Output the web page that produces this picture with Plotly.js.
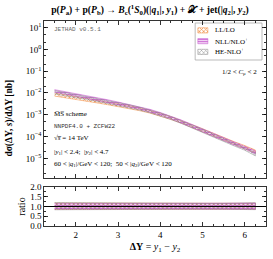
<!DOCTYPE html>
<html><head><meta charset="utf-8">
<script src="https://cdn.plot.ly/plotly-3.0.1.min.js"></script>
<style>html,body{margin:0;padding:0;background:#fff}#chart{width:273px;height:259px}</style>
</head><body><div id="chart"></div>
<script>
const dY = [1.5,1.75,2.0,2.25,2.5,2.75,3.0,3.25,3.5,3.75,4.0,4.25,4.5,4.75,5.0,5.25,5.5,5.75,6.0,6.25];

const llLow  = [7.2e-3,6.0e-3,5.0e-3,4.2e-3,3.5e-3,2.9e-3,2.4e-3,1.95e-3,1.55e-3,1.2e-3,8.8e-4,6.1e-4,4.1e-4,2.65e-4,1.7e-4,1.07e-4,6.7e-5,4.3e-5,2.85e-5,1.75e-5];
const llHigh = [1.0e-2,8.3e-3,6.9e-3,5.8e-3,4.8e-3,3.95e-3,3.25e-3,2.65e-3,2.1e-3,1.62e-3,1.18e-3,8.2e-4,5.5e-4,3.55e-4,2.28e-4,1.44e-4,9.0e-5,5.8e-5,3.85e-5,2.4e-5];

const nllLow  = [1.08e-2,8.8e-3,7.1e-3,5.8e-3,4.6e-3,3.7e-3,2.9e-3,2.3e-3,1.8e-3,1.36e-3,9.6e-4,6.5e-4,4.3e-4,2.7e-4,1.7e-4,1.05e-4,6.5e-5,4.1e-5,2.7e-5,1.6e-5];
const nllHigh = [1.42e-2,1.16e-2,9.4e-3,7.7e-3,6.1e-3,4.9e-3,3.85e-3,3.05e-3,2.35e-3,1.78e-3,1.27e-3,8.6e-4,5.7e-4,3.6e-4,2.28e-4,1.4e-4,8.7e-5,5.5e-5,3.65e-5,2.2e-5];

const heLow  = [9.0e-3,7.4e-3,6.1e-3,5.0e-3,4.1e-3,3.3e-3,2.65e-3,2.1e-3,1.65e-3,1.25e-3,8.9e-4,6.1e-4,4.0e-4,2.55e-4,1.6e-4,9.8e-5,6.0e-5,3.7e-5,2.35e-5,1.3e-5];
const heHigh = [1.3e-2,1.06e-2,8.7e-3,7.1e-3,5.7e-3,4.6e-3,3.65e-3,2.9e-3,2.25e-3,1.7e-3,1.2e-3,8.2e-4,5.4e-4,3.4e-4,2.15e-4,1.32e-4,8.1e-5,5.0e-5,3.2e-5,1.85e-5];

const seriesNames = ['LL/LO', 'NLL/NLO<sup>+</sup>', 'HE-NLO<sup>+</sup>'];
const yTickVals = [1e-5,1e-4,1e-3,1e-2,1e-1,1,10];
const yTickText = ['10<sup>−5</sup>','10<sup>−4</sup>','10<sup>−3</sup>','10<sup>−2</sup>','10<sup>−1</sup>','10<sup>0</sup>','10<sup>1</sup>'];
const rTickVals = [0,0.5,1,1.5,2];
const rTickText = ['0.0','0.5','1.0','1.5','2.0'];

const serif = 'Liberation Serif, DejaVu Serif, serif';
const mono = 'Liberation Mono, DejaVu Sans Mono, monospace';
const qv = '<i>q</i>';

function poly(lo, hi){ return {x: dY.concat(dY.slice().reverse()), y: hi.concat(lo.slice().reverse())}; }
function ratio(lo, hi){
  const mid = lo.map((v,i)=>Math.sqrt(v*hi[i]));
  return poly(lo.map((v,i)=>v/mid[i]), hi.map((v,i)=>v/mid[i]));
}
const models = [
  {name:seriesNames[0], lo:llLow, hi:llHigh, col:'#f0883a', shape:'x', sz:3, sol:0.4},
  {name:seriesNames[1], lo:nllLow, hi:nllHigh, col:'#c450cc', shape:'-', sz:2.5, sol:0.5},
  {name:seriesNames[2], lo:heLow, hi:heHigh, col:'#8c8c8c', shape:'x', sz:3, sol:0.3}
];
function style(m){
  return {line:{color:m.col, width:0.5}, fillcolor:'rgba(255,255,255,0)',
    fillpattern:{shape:m.shape, fgcolor:m.col, bgcolor:'rgba(255,255,255,0)', size:m.sz, solidity:m.sol}};
}
const traces = [];
models.forEach(m=>{
  const p = poly(m.lo, m.hi);
  traces.push(Object.assign({x:p.x, y:p.y, xaxis:'x', yaxis:'y', type:'scatter', mode:'lines', fill:'toself', showlegend:false, hoverinfo:'skip'}, style(m)));
});
models.forEach(m=>{
  const p = ratio(m.lo, m.hi);
  traces.push(Object.assign({x:p.x, y:p.y, xaxis:'x2', yaxis:'y2', type:'scatter', mode:'lines', fill:'toself', showlegend:false, hoverinfo:'skip'}, style(m)));
});
// legend keys (drawn in a small hidden axis placed where the legend box is)
const keyRows = [0.80, 0.51, 0.22];
models.forEach((m,i)=>{
  const r = keyRows[i];
  traces.push(Object.assign({x:[0.04,0.19,0.19,0.04,0.04], y:[r-0.07,r-0.07,r+0.07,r+0.07,r-0.07], xaxis:'x3', yaxis:'y3',
    type:'scatter', mode:'lines', fill:'toself', showlegend:false, hoverinfo:'skip'}, style(m)));
});

const L = 43.5, R = 266, T = 21, B = 226, W = 273, H = 259;
const px = v => (v - L)/(R - L);
const py = v => (B - v)/(B - T);
const mainBot = 178, ratTop = 187;
const lgL = 195, lgR = 262, lgT = 23, lgB = 60;

const axCommon = {ticks:'inside', ticklen:4, tickwidth:0.8, tickcolor:'#000', linecolor:'#000', linewidth:0.8,
  showline:true, mirror:'allticks', showgrid:false, zeroline:false, tickfont:{family:serif, size:9, color:'#000'}};

const ann = (x,y,text,font,xanchor) => ({xref:'paper', yref:'paper', x:px(x), y:py(y), text, showarrow:false,
  xanchor:xanchor||'left', yanchor:'middle', font});
const fs = {family:serif, size:7, color:'#000'};
const fm = {family:mono, size:6, color:'#333'};

const annotations = [
  ann(52,29,'JETHAD v0.5.1',{family:mono, size:6, color:'#666'}),
  ann(259,72,'1/2 < <i>C</i><sub>μ</sub> < 2',fs,'right'),
  ann(52,114,'M̅S̅ scheme',fs),
  ann(52,126,'NNPDF4.0 + ZCFW22',fm),
  ann(52,138,'√<i>s̅</i> = 14 TeV',fs),
  ann(52,152,'|<i>y</i><sub>1</sub>| < 2.4;  |<i>y</i><sub>2</sub>| < 4.7',fs),
  ann(52,164,'60 < |'+qv+'<sub>1</sub>|/GeV < 120;  50 < |'+qv+'<sub>2</sub>|/GeV < 120',fs),
  {xref:'paper', yref:'paper', x:-35.5/(R-L), y:py(118), text:'<b>dσ(ΔY, <i>s</i>)/dΔY [nb]</b>', textangle:-90,
    showarrow:false, xanchor:'center', yanchor:'middle', font:{family:serif, size:9.5, color:'#000'}}
];
models.forEach((m,i)=>{
  annotations.push({xref:'x3 domain', yref:'y3 domain', x:0.26, y:keyRows[i], text:m.name, showarrow:false,
    xanchor:'left', yanchor:'middle', font:{family:serif, size:7, color:'#000'}});
});

const layout = {
  width:W, height:H, margin:{l:L, r:W-R, t:T, b:H-B}, paper_bgcolor:'#fff', plot_bgcolor:'rgba(0,0,0,0)',
  showlegend:false,
  title:{text:'<b>p(<i>P</i><sub>a</sub>) + p(<i>P</i><sub>b</sub>) → <i>B</i><sub>c</sub>(<sup>1</sup><i>S</i><sub>0</sub>)(|'+qv+'<sub>1</sub>|, <i>y</i><sub>1</sub>) + 𝒳 + jet(|'+qv+'<sub>2</sub>|, <i>y</i><sub>2</sub>)</b>',
    font:{family:serif, size:9.6, color:'#000'}, x:150/W, xanchor:'center', y:1-10/H, yanchor:'middle', xref:'container', yref:'container'},
  xaxis:Object.assign({}, axCommon, {domain:[0,1], anchor:'y', range:[1.25,6.5], dtick:1, showticklabels:false,
    minor:{ticks:'inside', ticklen:2, dtick:0.25, tickcolor:'#000'}}),
  xaxis2:Object.assign({}, axCommon, {domain:[0,1], anchor:'y2', range:[1.25,6.5], dtick:1, matches:'x',
    minor:{ticks:'inside', ticklen:2, dtick:0.25, tickcolor:'#000'},
    title:{text:'<b>ΔY</b> = <i>y</i><sub>1</sub> − <i>y</i><sub>2</sub>', font:{family:serif, size:10, color:'#000'}, standoff:4}}),
  yaxis:Object.assign({}, axCommon, {domain:[py(mainBot),1], anchor:'x', type:'log', range:[-5.9,1.3],
    tickvals:yTickVals, ticktext:yTickText, minor:{ticks:'inside', ticklen:2, tickcolor:'#000'}}),
  yaxis2:Object.assign({}, axCommon, {domain:[0,py(ratTop)], anchor:'x2', range:[0,2],
    tickvals:rTickVals, ticktext:rTickText, minor:{ticks:'inside', ticklen:2, dtick:0.25, tickcolor:'#000'},
    title:{text:'ratio', font:{family:serif, size:10, color:'#000'}, standoff:2}}),
  xaxis3:{domain:[px(lgL),px(lgR)], anchor:'y3', range:[0,1], visible:false, fixedrange:true},
  yaxis3:{domain:[py(lgB),py(lgT)], anchor:'x3', range:[0,1], visible:false, fixedrange:true},
  shapes:[
    {type:'line', xref:'paper', yref:'y2', x0:0, x1:1, y0:1, y1:1, line:{color:'#000', width:1}},
    {type:'rect', xref:'x3 domain', yref:'y3 domain', x0:0, x1:1, y0:0, y1:1, line:{color:'#aaa', width:0.8}, fillcolor:'rgba(255,255,255,0)', layer:'below'}
  ],
  annotations
};
Plotly.newPlot('chart', traces, layout, {staticPlot:true, displayModeBar:false});
</script></body></html>
